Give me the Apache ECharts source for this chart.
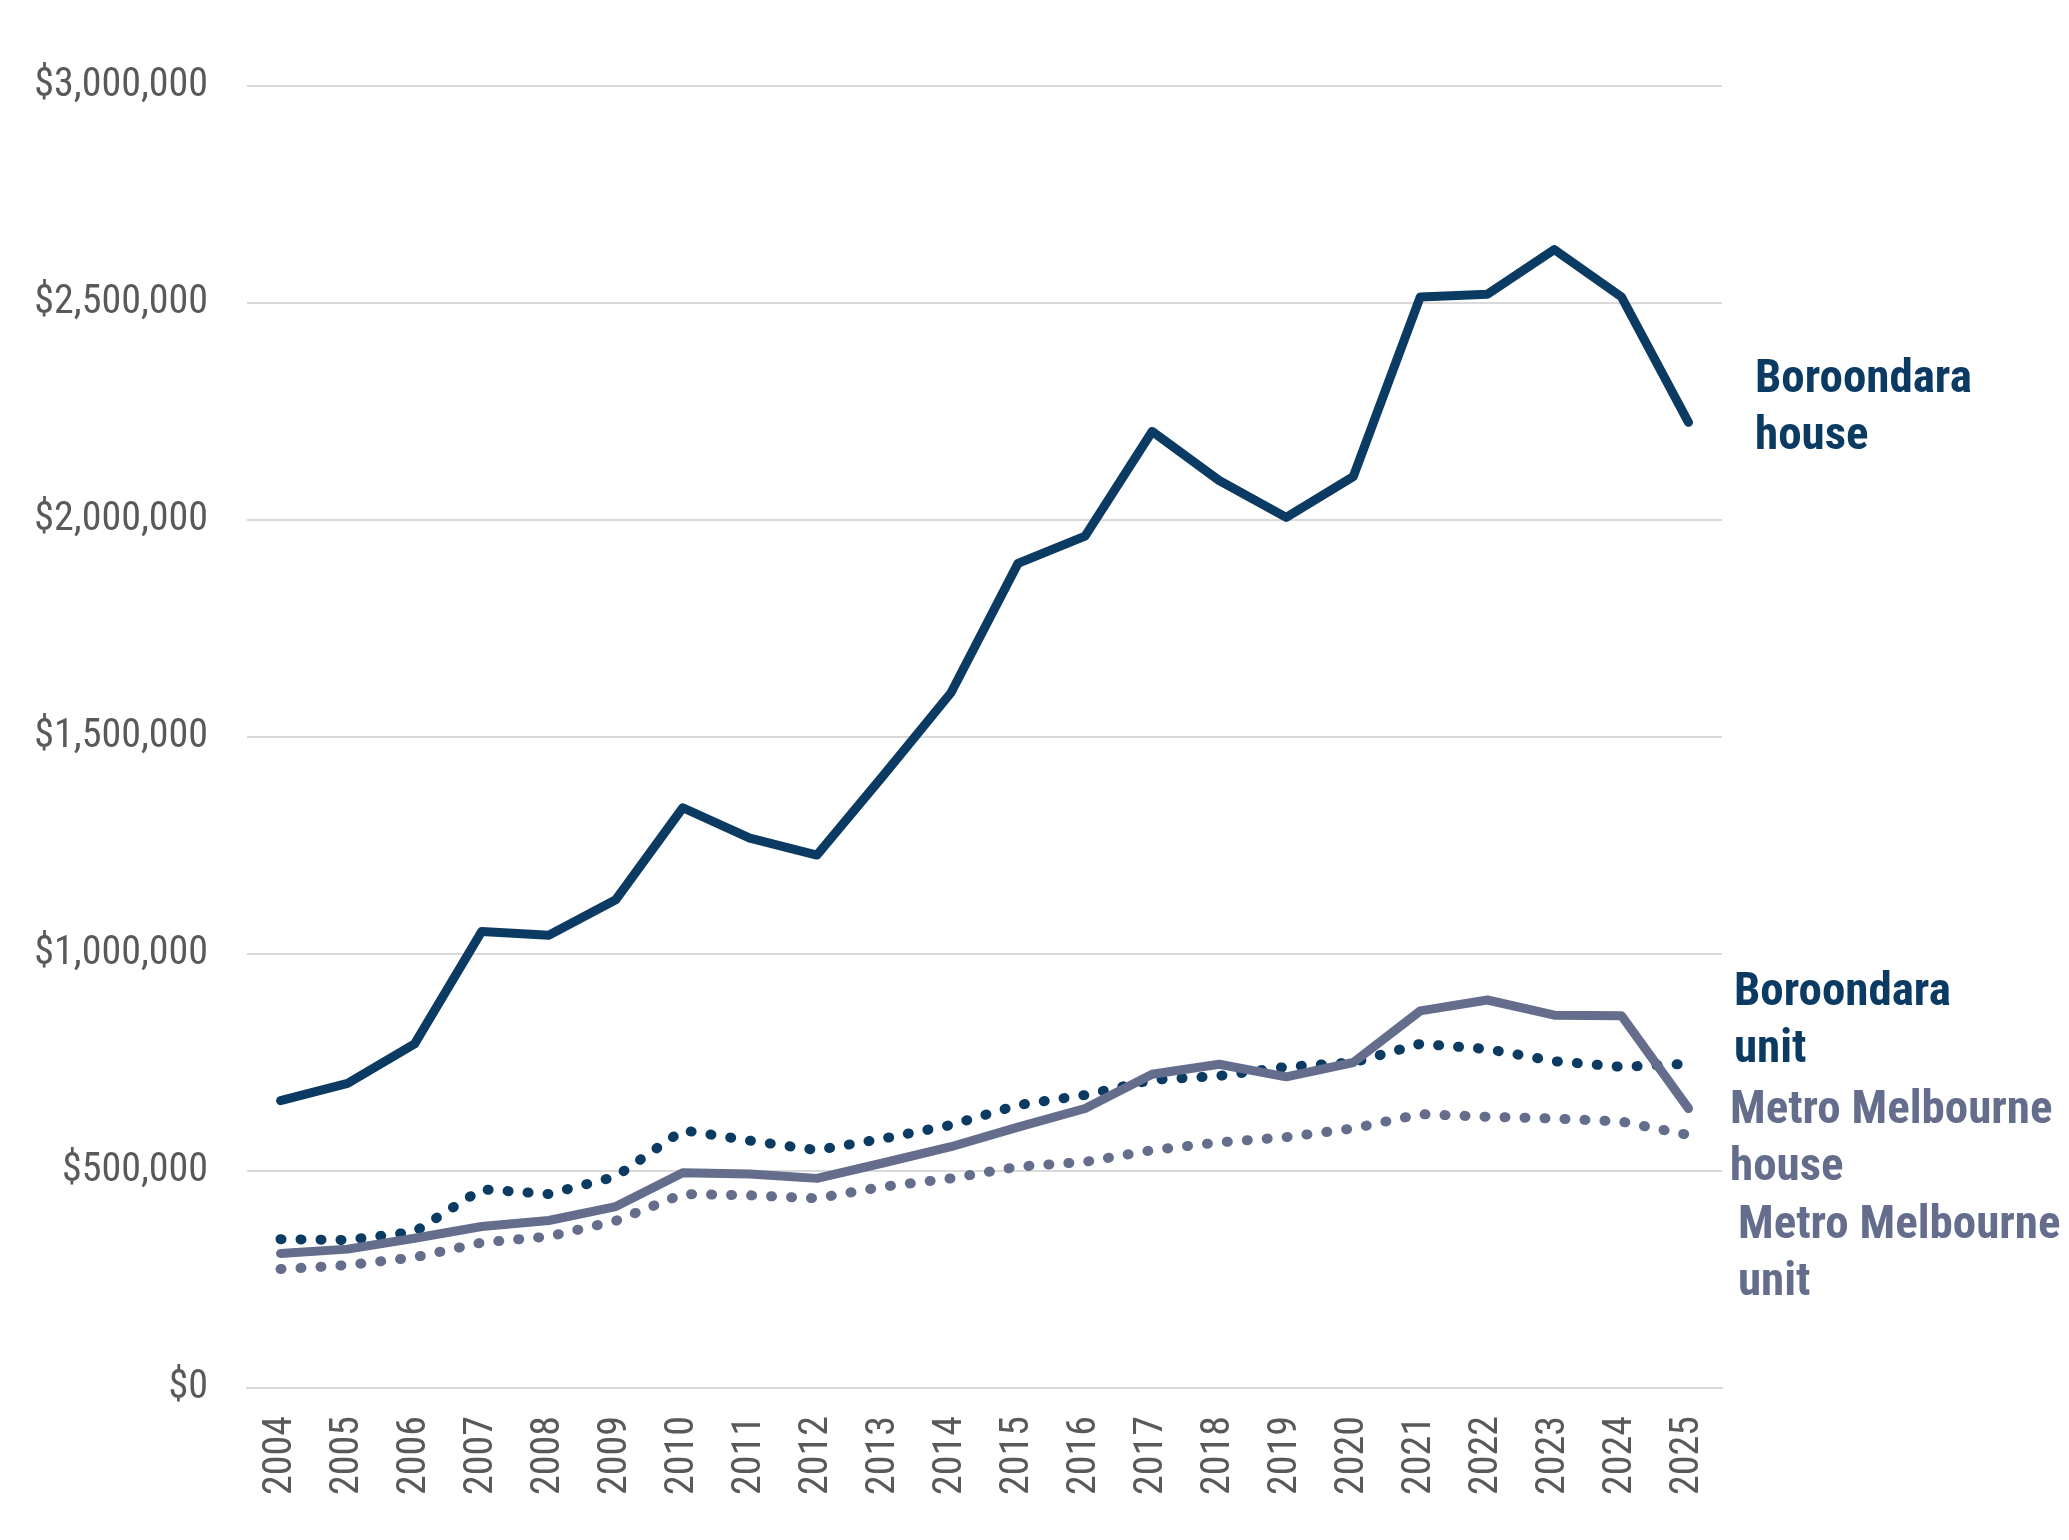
<!DOCTYPE html>
<html>
<head>
<meta charset="utf-8">
<script src="https://cdn.jsdelivr.net/npm/echarts@6/dist/echarts.min.js"></script>
<style>
  html, body { margin: 0; padding: 0; background: #fff; }
  #chart { width: 2069px; height: 1540px; }
</style>
</head>
<body>
<div id="chart"></div>
<script>
// 年份
const years = ["2004", "2005", "2006", "2007", "2008", "2009", "2010", "2011", "2012", "2013", "2014",
  "2015", "2016", "2017", "2018", "2019", "2020", "2021", "2022", "2023", "2024", "2025"];

// median prices
const boroondaraHouse = [662000, 702000, 793000, 1052000, 1043000, 1125000, 1337000, 1267000, 1228000, 1413000, 1602000,
  1900000, 1963000, 2204000, 2091000, 2006000, 2100000, 2514000, 2520000, 2623000, 2514000, 2225000];
const boroondaraUnit = [343000, 341000, 360000, 458000, 447000, 487000, 594000, 570000, 548000, 575000, 606000,
  652000, 675000, 710000, 719000, 740000, 750000, 793000, 781000, 753000, 740000, 747000];
const metroHouse = [310000, 320000, 345000, 372000, 386000, 418000, 496000, 493000, 483000, 519000, 556000,
  601000, 644000, 723000, 746000, 717000, 750000, 869000, 894000, 859000, 858000, 644000];
const metroUnit = [274000, 283000, 301000, 335000, 349000, 385000, 447000, 444000, 437000, 464000, 483000,
  510000, 521000, 548000, 566000, 578000, 598000, 631000, 625000, 621000, 614000, 583000];

const yTicks = [0, 500000, 1000000, 1500000, 2000000, 2500000, 3000000];

const navy = "#0B3A62";
const slate = "#646D8B";
const font = "'Roboto Condensed', Roboto, sans-serif";

const chart = echarts.init(document.getElementById("chart"));

const dotted = (name, data, color) => ({
  name,
  type: "line",
  data,
  symbol: "none",
  z: 2,
  lineStyle: { color, width: 10, type: [1, 19], cap: "round" },
});

const solid = (name, data, color, z) => ({
  name,
  type: "line",
  data,
  symbol: "none",
  z,
  lineStyle: { color, width: 9, cap: "round", join: "round" },
});

const label = (lines, x, y, color) => ({
  type: "text",
  left: x,
  top: y,
  style: {
    text: lines.join("\n"),
    fill: color,
    font: "bold 47px " + font,
    lineHeight: 57,
  },
});

chart.setOption({
  animation: false,
  grid: { left: 247, right: 347, top: 86, bottom: 152 },
  xAxis: {
    type: "category",
    data: years,
    boundaryGap: true,
    axisLine: { show: true, lineStyle: { color: "#D9D9D9", width: 2 } },
    axisTick: { show: false },
    axisLabel: {
      rotate: 90,
      margin: 28,
      color: "#595959",
      fontFamily: font,
      fontSize: 40,
    },
  },
  yAxis: {
    type: "value",
    min: yTicks[0],
    max: yTicks[yTicks.length - 1],
    interval: 500000,
    axisLine: { show: false },
    axisTick: { show: false },
    splitLine: { lineStyle: { color: "#D9D9D9", width: 2 } },
    axisLabel: {
      margin: 39,
      color: "#595959",
      fontFamily: font,
      fontSize: 40,
      formatter: (v) => "$" + v.toLocaleString("en-US"),
    },
  },
  series: [
    dotted("Metro Melbourne unit", metroUnit, slate),
    dotted("Boroondara unit", boroondaraUnit, navy),
    solid("Metro Melbourne house", metroHouse, slate, 3),
    solid("Boroondara house", boroondaraHouse, navy, 4),
  ],
  graphic: [
    label(["Boroondara", "house"], 1755, 352, navy),
    label(["Boroondara", "unit"], 1734, 965, navy),
    label(["Metro Melbourne", "house"], 1730, 1083, slate),
    label(["Metro Melbourne", "unit"], 1738, 1198, slate),
  ],
});
</script>
</body>
</html>
